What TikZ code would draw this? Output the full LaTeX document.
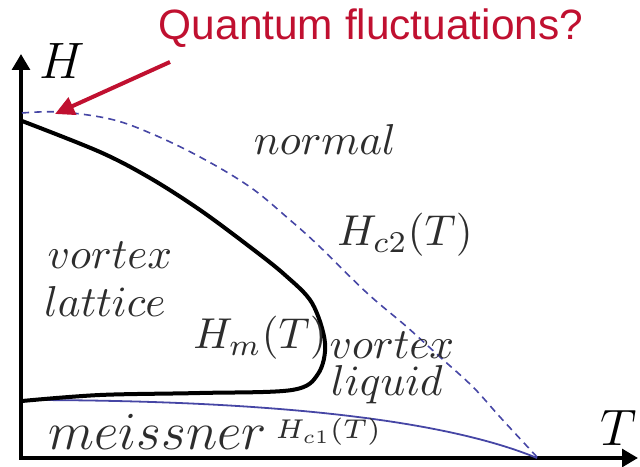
\RequirePackage{fix-cm}
\documentclass[tikz,border=0pt]{standalone}
\usepackage{fontspec}
\newfontfamily\notefont{Liberation Sans}
\usetikzlibrary{arrows.meta}

\definecolor{notered}{RGB}{192,16,48}
\definecolor{hcblue}{RGB}{70,70,165}
\definecolor{txtgray}{RGB}{45,45,45}

\begin{document}
\begin{tikzpicture}[
                x=0.25pt, y=-0.25pt,
                axis/.style={line width=1pt, {Triangle[length=4pt, width=4.4pt]}-{Triangle[length=4pt, width=4.4pt]}},
                phase/.style={text=txtgray, inner sep=0pt, font=\fontsize{10.8}{13}\selectfont},
                axislbl/.style={inner sep=0pt},
                melt/.style={line width=1pt, line join=round},
                hctwo/.style={draw=hcblue, line width=0.4pt, dash pattern=on 1.8pt off 1.3pt},
                hcone/.style={draw=hcblue, line width=0.45pt},
                note/.style={text=notered, inner sep=0pt, font=\notefont\fontsize{10.6}{13}\selectfont},
                pointer/.style={draw=notered, line width=1pt, -{Triangle[length=4.8pt, width=4.6pt]}}
            ]
            \useasboundingbox (0,0) rectangle (640,467);

            % Axes
            \coordinate (origin) at (21,458);
            \coordinate (hend) at (21,54);
            \coordinate (tend) at (638,458);
            \draw[axis] (hend) -- (origin) -- (tend);
            \node[axislbl, font=\fontsize{12.8}{15}\selectfont] (hlbl) at (62,61) {$H$};
            \node[axislbl, font=\fontsize{12.8}{15}\selectfont] (tlbl) at (619,428) {$T$};

            % Phase boundaries
            \draw[hctwo] plot[smooth, tension=0.6] coordinates {(22,113) (60,112) (110,119) (150,133) (200,157) (250,187) (290,220) (320,247) (367,293) (407,327) (440,357) (473,387) (500,417) (537,457)};
            \draw[hcone] (22,400) .. controls (260,400) and (440,418) .. (537,458);
            \draw[melt] plot[smooth, tension=0.55] coordinates {(22,121) (100,152) (150,178) (200,210) (250,247) (285,275) (312,303) (325,343) (318,374) (292,390) (200,393) (100,395) (22,401)};

            % Regions
            \node[phase] (normal) at (325,140) {$normal$};
            \node[phase] (vlat) at (110,255) {$vortex$};
            \node[phase] (lat) at (105,302) {$lattice$};
            \node[phase] (hm) at (260,338) {$H_m(T)$};
            \node[phase] (vliq) at (392,345) {$vortex$};
            \node[phase] (liq) at (387,385) {$liquid$};
            \node[phase] (hc2) at (405,235) {$H_{c2}(T)$};
            \node[phase, font=\fontsize{13.4}{16}\selectfont] (meis) at (158,432) {$meissner$};
            \node[phase, font=\fontsize{6.8}{8}\selectfont] (hc1) at (328,432) {$H_{c1}(T)$};

            % Annotation
            \node[note] (quantum) at (371,28) {Quantum fluctuations?};
            \coordinate (qtail) at (170,62);
            \coordinate (qtip) at (55,114);
            \draw[pointer] (qtail) -- (qtip);

        \end{tikzpicture}
\end{document}
